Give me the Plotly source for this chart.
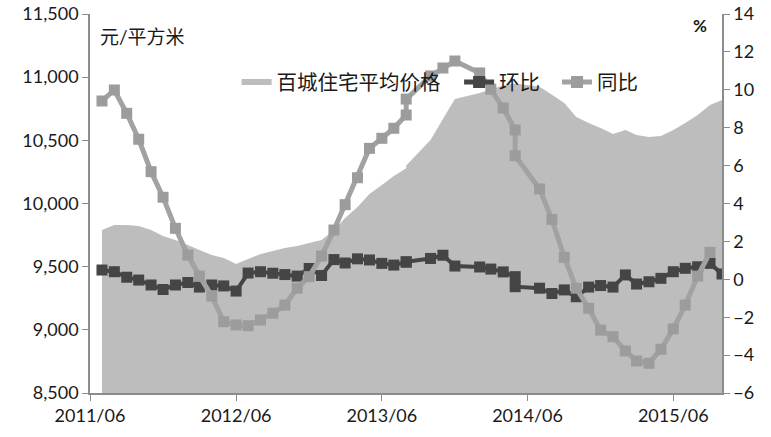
import plotly.graph_objects as go

# monthly observations (two readings fall in 2013-08 and 2014-05)
dates = ["2011-07", "2011-08", "2011-09", "2011-10", "2011-11", "2011-12",
         "2012-01", "2012-02", "2012-03", "2012-04", "2012-05", "2012-06",
         "2012-07", "2012-08", "2012-09", "2012-10", "2012-11", "2012-12",
         "2013-01", "2013-02", "2013-03", "2013-04", "2013-05", "2013-06",
         "2013-07", "2013-08", "2013-08", "2013-10", "2013-11", "2013-12",
         "2014-02", "2014-03", "2014-04", "2014-05", "2014-05",
         "2014-07", "2014-08", "2014-09", "2014-10", "2014-11", "2014-12",
         "2015-01", "2015-02", "2015-03", "2015-04", "2015-05", "2015-06",
         "2015-07", "2015-08", "2015-09", "2015-10"]

avg_price = [9790, 9830, 9830, 9822, 9790, 9743,
             9711, 9671, 9632, 9592, 9568, 9521,
             9560, 9600, 9624, 9648, 9664, 9687,
             9711, 9790, 9885, 9972, 10075, 10146,
             10218, 10280, 10300, 10503, 10669, 10827,
             10875, 10905, 10935, 10950, 10950,
             10925, 10860, 10795, 10685, 10637, 10598,
             10550, 10582, 10542, 10526, 10534, 10582,
             10637, 10700, 10780, 10819]

mom = [0.49, 0.40, 0.11, -0.04, -0.30, -0.54,
       -0.30, -0.17, -0.41, -0.30, -0.35, -0.62,
       0.33, 0.40, 0.32, 0.25, 0.17, 0.57,
       0.20, 1.04, 0.86, 1.08, 1.02, 0.84,
       0.75, 0.90, 0.93, 1.10, 1.27, 0.70,
       0.65, 0.54, 0.39, 0.14, -0.39,
       -0.47, -0.75, -0.56, -0.92, -0.41, -0.33,
       -0.41, 0.23, -0.25, -0.13, 0.05, 0.40,
       0.58, 0.66, 0.84, 0.28]

yoy = [9.41, 9.99, 8.76, 7.39, 5.68, 4.33,
       2.69, 1.28, 0.17, -0.88, -2.24, -2.41,
       -2.45, -2.15, -1.79, -1.36, -0.47, 0.14,
       1.23, 2.60, 3.94, 5.36, 6.91, 7.44,
       7.97, 8.67, 9.51, 10.73, 11.15, 11.52,
       10.89, 10.03, 9.04, 7.88, 6.52,
       4.77, 3.16, 1.16, -0.47, -1.53, -2.68,
       -3.03, -3.78, -4.31, -4.43, -3.69, -2.62,
       -1.36, 0.17, 1.42, None]

tick_dates = ["2011-06-01", "2012-06-01", "2013-06-01", "2014-06-01", "2015-06-01"]
tick_labels = ["2011/06", "2012/06", "2013/06", "2014/06", "2015/06"]

font_main = "Lato, Noto Sans CJK SC"
axis_grey = "#8c8c8c"

fig = go.Figure()

fig.add_trace(go.Scatter(x=dates, y=avg_price, name="百城住宅平均价格",
                         mode="none", fill="tozeroy",
                         fillcolor="#bdbdbd", yaxis="y", legend="legend"))
fig.add_trace(go.Scatter(x=dates, y=mom, name="环比", mode="lines+markers",
                         line=dict(color="#454545", width=4),
                         marker=dict(symbol="square", size=11, color="#454545"),
                         yaxis="y2", legend="legend2"))
fig.add_trace(go.Scatter(x=dates, y=yoy, name="同比", mode="lines+markers",
                         line=dict(color="#a2a2a2", width=5),
                         marker=dict(symbol="square", size=11, color="#9c9c9c"),
                         yaxis="y2", legend="legend3"))

axis_style = dict(showgrid=False, showline=True, linecolor=axis_grey, linewidth=1.5,
                  ticks="outside", ticklen=6, tickcolor=axis_grey, zeroline=False,
                  automargin=False)


def legend_at(x):
    return dict(orientation="h", x=x, y=0.82, xanchor="left", yanchor="middle",
                bgcolor="rgba(0,0,0,0)", font=dict(size=20.5), itemsizing="constant")


fig.update_layout(
    width=771, height=437,
    margin=dict(l=90, r=49, t=14, b=44, autoexpand=False),
    plot_bgcolor="white", paper_bgcolor="white",
    font=dict(family=font_main, size=18, color="#1a1a1a"),
    showlegend=True,
    legend=legend_at(0.232),
    legend2=legend_at(0.584),
    legend3=legend_at(0.739),
    xaxis=dict(type="date", range=["2011-06-01", "2015-10-01"],
               tickvals=tick_dates, ticktext=tick_labels, **axis_style),
    yaxis=dict(range=[8500, 11500], dtick=500, tickformat=",", **axis_style),
    yaxis2=dict(range=[-6, 14], dtick=2, overlaying="y", side="right", **axis_style),
    annotations=[
        dict(text="元/平方米", xref="paper", yref="paper", x=0.012, y=0.94,
             xanchor="left", yanchor="middle", showarrow=False, font=dict(size=19)),
        dict(text="<b>%</b>", xref="paper", yref="paper", x=0.965, y=0.97,
             xanchor="center", yanchor="middle", showarrow=False, font=dict(size=17)),
    ],
)

fig.write_html("out.html", config={"displayModeBar": False},
               post_script="document.body.style.margin='0';")
